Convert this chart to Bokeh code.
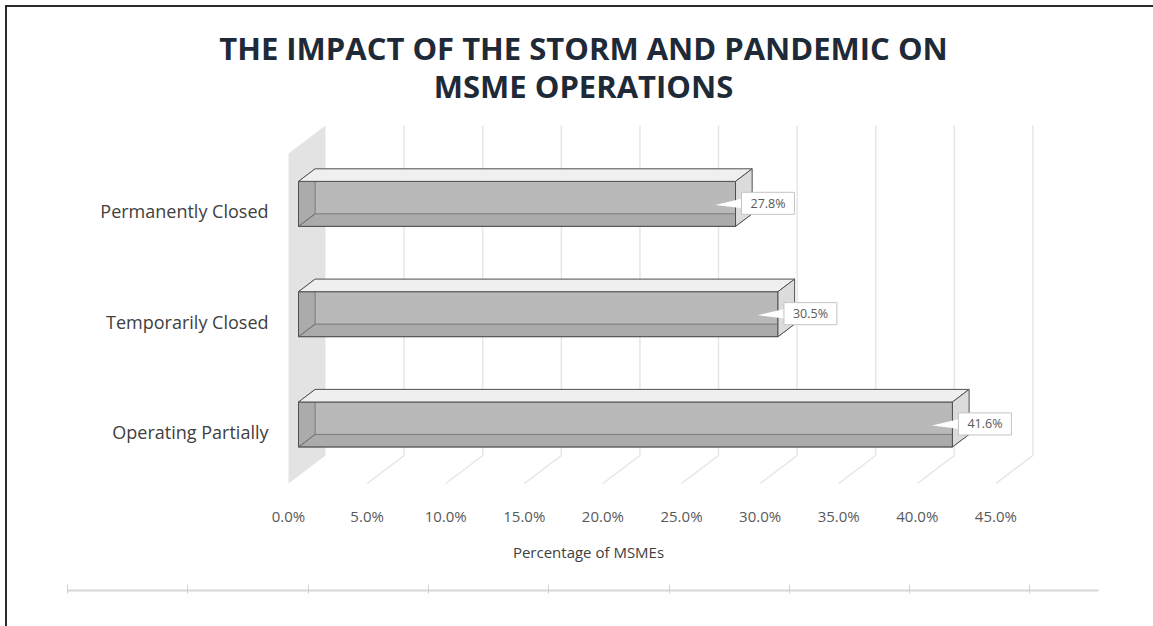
from bokeh.plotting import figure
from bokeh.models import (Range1d, LinearAxis, FixedTicker, PrintfTickFormatter, Label,
                          CustomJSTickFormatter)
from bokeh.core.properties import value
from bokeh.embed import file_html
from bokeh.resources import INLINE

# ---------------- data ----------------
categories = ["Operating Partially", "Temporarily Closed", "Permanently Closed"]
shares = [41.6, 30.5, 27.8]
x_ticks = [0, 5, 10, 15, 20, 25, 30, 35, 40, 45]
title_lines = ["THE IMPACT OF THE STORM AND PANDEMIC ON", "MSME OPERATIONS"]
x_title = "Percentage of MSMEs"

# ---------------- layout constants ----------------
W, H = 1153, 590
PX_PER_PCT = 15.72
PX_PER_CAT = 110.3
X0_PX = 298
Y0_PX = 424

x_start = -X0_PX / PX_PER_PCT
x_end = (W - X0_PX) / PX_PER_PCT
y_start = (Y0_PX - H) / PX_PER_CAT
y_end = Y0_PX / PX_PER_CAT

DX = 37 / PX_PER_PCT      # full 3-D depth (x, data units)
DY = 28 / PX_PER_CAT      # full 3-D depth (y, data units)
F0, F1 = 0.27, 0.72       # bar depth slice
HALF = 0.204              # half bar height
FLOOR = -0.4665
TOP = 2.525
BX, BY = (F1 - F0) * DX, (F1 - F0) * DY


def P(xl, yl, f):
    return xl + (f - F0) * DX, yl + (f - F0) * DY


FONT = value("Open Sans")

p = figure(frame_width=W, frame_height=H, x_range=Range1d(x_start, x_end),
           y_range=Range1d(y_start, y_end), x_axis_type=None, y_axis_type=None,
           toolbar_location=None, output_backend="svg", title=None,
           min_border=0, min_border_bottom=36, outline_line_color=None,
           background_fill_color=None, border_fill_color=None)
p.styles = {"box-shadow": "inset 5px 5px 0 0 #ffffff, inset 7px 7px 0 0 #2b2b2b",
            "background-color": "white"}

# side wall
wall = [P(0, FLOOR, 0), P(0, TOP, 0), P(0, TOP, 1), P(0, FLOOR, 1)]
p.patch([a for a, b in wall], [b for a, b in wall], fill_color="#e3e3e3", line_color=None)

# gridlines on back wall and floor
bx0, by0, bx1, by1 = [], [], [], []
fx0, fy0, fx1, fy1 = [], [], [], []
for t in x_ticks:
    a = P(t, FLOOR, 1); b = P(t, TOP, 1)
    bx0.append(a[0]); by0.append(a[1]); bx1.append(b[0]); by1.append(b[1])
    c = P(t, FLOOR, 0)
    fx0.append(c[0]); fy0.append(c[1]); fx1.append(a[0]); fy1.append(a[1])
p.segment(bx0[1:], by0[1:], bx1[1:], by1[1:], line_color="#e6e6e6", line_width=1.5)
p.segment(fx0[1:], fy0[1:], fx1[1:], fy1[1:], line_color="#e6e6e6", line_width=1.5)

# 3-D bars
front_xs, front_ys, top_xs, top_ys, right_xs, right_ys = [], [], [], [], [], []
left_xs, left_ys, bot_xs, bot_ys = [], [], [], []
for i, v in enumerate(shares):
    lo, hi = i - HALF, i + HALF
    front_xs.append([0, v, v, 0]); front_ys.append([lo, lo, hi, hi])
    top_xs.append([0, v, v + BX, BX]); top_ys.append([hi, hi, hi + BY, hi + BY])
    right_xs.append([v, v + BX, v + BX, v]); right_ys.append([lo, lo + BY, hi + BY, hi])
    left_xs.append([0, BX, BX, 0]); left_ys.append([lo, lo + BY, hi + BY, hi])
    bot_xs.append([0, v, v + BX, BX]); bot_ys.append([lo, lo, lo + BY, lo + BY])

p.patches(front_xs, front_ys, fill_color="#b9b9b9", line_color=None)
p.patches(left_xs, left_ys, fill_color="black", fill_alpha=0.07,
          line_color="#6a6a6a", line_alpha=0.75, line_width=1)
p.patches(bot_xs, bot_ys, fill_color="black", fill_alpha=0.07,
          line_color="#6a6a6a", line_alpha=0.75, line_width=1)
p.patches(front_xs, front_ys, fill_color=None, line_color="#505050", line_width=1)
p.patches(top_xs, top_ys, fill_color="#efefef", line_color="#505050", line_width=1)
p.patches(right_xs, right_ys, fill_color="#dcdcdc", line_color="#505050", line_width=1)

# data labels (callouts)
ptr_xs, ptr_ys = [], []
for i, v in enumerate(shares):
    ptr_xs.append([v - 1.3, v + 0.45, v + 0.45]); ptr_ys.append([i - 0.01, i + 0.05, i - 0.04])
p.patches(ptr_xs, ptr_ys, fill_color="white", line_color=None)
p.quad(left=[v + 0.38 for v in shares], right=[v + 3.75 for v in shares],
       bottom=[i - 0.095 for i in range(len(shares))], top=[i + 0.105 for i in range(len(shares))],
       fill_color="white", line_color="#c4c4c4", line_width=1)
p.text(x=[v + 2.07 for v in shares], y=[i + 0.005 for i in range(len(shares))],
       text=[f"{v:.1f}%" for v in shares], text_font=FONT, text_font_size="12.5px",
       text_color="#595959", text_align="center", text_baseline="middle")

# axes
p.extra_x_ranges = {
    "front": Range1d(x_start + F0 * DX, x_end + F0 * DX),
    "deco": Range1d(-67 / 120.3, (W - 67) / 120.3),
}
p.extra_y_ranges = {"front_y": Range1d(y_start + F0 * DY, y_end + F0 * DY)}

xa = LinearAxis(x_range_name="front", fixed_location=(Y0_PX - 497) / PX_PER_CAT,
                ticker=FixedTicker(ticks=x_ticks),
                formatter=PrintfTickFormatter(format="%.1f%%"))
xa.axis_line_color = None
xa.major_tick_line_color = None
xa.minor_tick_line_color = None
xa.major_tick_out = 0
xa.major_tick_in = 0
xa.major_label_standoff = 8
xa.major_label_text_font = "Open Sans"
xa.major_label_text_font_size = "15px"
xa.major_label_text_color = "#595959"
p.add_layout(xa, "below")

ya = LinearAxis(y_range_name="front_y", fixed_location=-F0 * DX,
                ticker=FixedTicker(ticks=list(range(len(categories)))))
ya.major_label_overrides = {i: c for i, c in enumerate(categories)}
ya.axis_line_color = None
ya.major_tick_line_color = None
ya.minor_tick_line_color = None
ya.major_tick_out = 0
ya.major_tick_in = 0
ya.major_label_standoff = 20
ya.major_label_text_font = "Open Sans"
ya.major_label_text_font_size = "18px"
ya.major_label_text_color = "#404040"
p.add_layout(ya, "left")

deco = LinearAxis(x_range_name="deco", ticker=FixedTicker(ticks=list(range(9))),
                  bounds=(0, 8.57), formatter=CustomJSTickFormatter(code="return ''"))
deco.axis_line_color = "#d6d6d6"
deco.axis_line_width = 2
deco.major_tick_line_color = "#cfcfcf"
deco.major_tick_in = 6
deco.major_tick_out = 3
deco.minor_tick_line_color = None
deco.major_label_standoff = 0
p.add_layout(deco, "below")

# texts
def sx(px):
    return (px - X0_PX) / PX_PER_PCT


def sy(py):
    return (Y0_PX - py) / PX_PER_CAT


for line, py in zip(title_lines, [47, 85]):
    p.add_layout(Label(x=sx(583), y=sy(py), text=line, text_font="Open Sans",
                       text_font_style="bold", text_font_size="31px",
                       text_color="#1f2a38", text_align="center", text_baseline="middle"))

p.add_layout(Label(x=sx(588), y=sy(551), text=x_title, text_font="Open Sans",
                   text_font_size="15px", text_color="#404040",
                   text_align="center", text_baseline="middle"))

open("out.html", "w").write(file_html(p, INLINE))
